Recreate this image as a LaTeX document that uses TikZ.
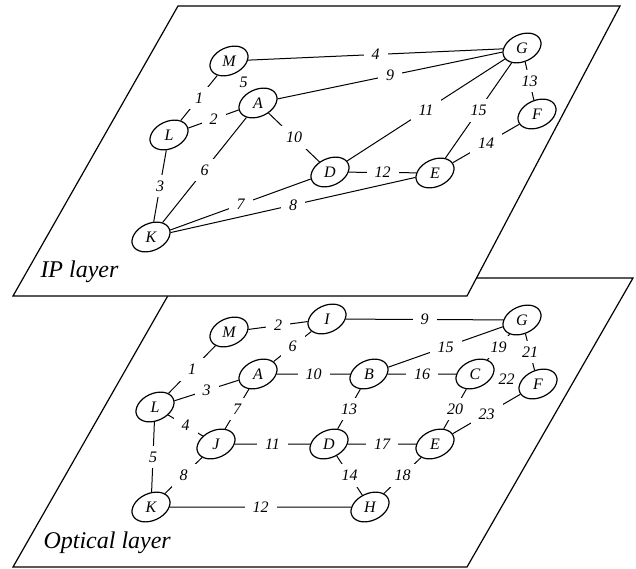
\documentclass[tikz,border=0pt]{standalone}
\usepackage{fontspec}
\setmainfont{Liberation Serif}
\usepackage{tikz}
\usetikzlibrary{shapes.geometric,backgrounds}

\newcommand{\up}[1]{\rotatebox{-25}{\itshape #1}}

\begin{document}
\begin{tikzpicture}[x=10pt,y=10pt,line width=1pt,
  every on background layer/.style={line width=1pt},
  vtx/.style={ellipse,draw,fill=white,line width=1.2pt,rotate=25,minimum width=40pt,minimum height=27pt,inner sep=0pt,font=\fontsize{16}{18}\selectfont},
  lbl/.style={fill=white,inner xsep=8pt,inner ysep=6pt,font=\fontsize{16}{18}\selectfont\itshape},
  plane/.style={draw,fill=white,line width=1.2pt},
  layer/.style={anchor=base west,inner sep=0pt,font=\fontsize{24}{28}\selectfont\itshape}]
\useasboundingbox (0,0) rectangle (63.6,-56.9);
% IP layer nodes
\node [vtx] (iM) at (22.9,-6.1) {\up{M}};
\node [vtx] (iA) at (25.8,-10.3) {\up{A}};
\node [vtx] (iL) at (16.9,-13.5) {\up{L}};
\node [vtx] (iG) at (52.2,-4.8) {\up{G}};
\node [vtx] (iF) at (53.7,-11.4) {\up{F}};
\node [vtx] (iE) at (43.5,-17.3) {\up{E}};
\node [vtx] (iD) at (33.0,-17.2) {\up{D}};
\node [vtx] (iK) at (15.1,-23.7) {\up{K}};
% optical layer nodes
\node [vtx] (oM) at (22.9,-33.2) {\up{M}};
\node [vtx] (oI) at (32.7,-31.9) {\up{I}};
\node [vtx] (oA) at (25.8,-37.4) {\up{A}};
\node [vtx] (oB) at (36.9,-37.4) {\up{B}};
\node [vtx] (oL) at (15.5,-40.7) {\up{L}};
\node [vtx] (oG) at (52.2,-32.0) {\up{G}};
\node [vtx] (oC) at (47.5,-37.4) {\up{C}};
\node [vtx] (oF) at (53.8,-38.4) {\up{F}};
\node [vtx] (oE) at (43.5,-44.4) {\up{E}};
\node [vtx] (oJ) at (21.6,-44.4) {\up{J}};
\node [vtx] (oD) at (32.9,-44.4) {\up{D}};
\node [vtx] (oK) at (15.1,-50.7) {\up{K}};
\node [vtx] (oH) at (37.0,-50.7) {\up{H}};

\begin{scope}[on background layer]
% planes
\draw [plane] (17.8,-27.8) -- (63.3,-27.8) -- (46.7,-56.7) -- (1.3,-56.7) -- cycle;
\draw [plane] (17.8,-0.6) -- (62.0,-0.6) -- (46.7,-29.6) -- (1.3,-29.6) -- cycle;
\node [layer] (iplabel) at (4.0,-27.7) {IP layer};
\node [layer] (oplabel) at (4.3,-54.8) {Optical layer};
% IP layer links
\draw (iM) -- node [lbl] {4} (iG);
\draw (iM) -- node [lbl] {5} (iA);
\draw (iM) -- node [lbl] {1} (iL);
\draw (iL) -- node [lbl] {2} (iA);
\draw (iA) -- node [lbl] {9} (iG);
\draw (iL) -- node [lbl] {3} (iK);
\draw (iA) -- node [lbl] {6} (iK);
\draw (iA) -- node [lbl] {10} (iD);
\draw (iD) -- node [lbl] {11} (iG);
\draw (iD) -- node [lbl] {12} (iE);
\draw (iG) -- node [lbl] {13} (iF);
\draw (iE) -- node [lbl] {14} (iF);
\draw (iE) -- node [lbl] {15} (iG);
\draw (iK) -- node [lbl] {7} (iD);
\draw (iK) -- node [lbl] {8} (iE);
% optical layer links
\draw (oM) -- node [lbl] {1} (oL);
\draw (oM) -- node [lbl] {2} (oI);
\draw (oL) -- node [lbl] {3} (oA);
\draw (oL) -- node [lbl] {4} (oJ);
\draw (oL) -- node [lbl] {5} (oK);
\draw (oI) -- node [lbl] {6} (oA);
\draw (oA) -- node [lbl] {7} (oJ);
\draw (oJ) -- node [lbl] {8} (oK);
\draw (oI) -- node [lbl] {9} (oG);
\draw (oA) -- node [lbl] {10} (oB);
\draw (oJ) -- node [lbl] {11} (oD);
\draw (oK) -- node [lbl] {12} (oH);
\draw (oB) -- node [lbl] {13} (oD);
\draw (oD) -- node [lbl] {14} (oH);
\draw (oB) -- node [lbl] {15} (oG);
\draw (oB) -- node [lbl] {16} (oC);
\draw (oD) -- node [lbl] {17} (oE);
\draw (oE) -- node [lbl] {18} (oH);
\draw (oC) -- node [lbl] {19} (oG);
\draw (oC) -- node [lbl] {20} (oE);
\draw (oG) -- node [lbl] {21} (oF);
\draw (oC) -- node [lbl] {22} (oF);
\draw (oE) -- node [lbl] {23} (oF);
\end{scope}
\end{tikzpicture}
\end{document}
